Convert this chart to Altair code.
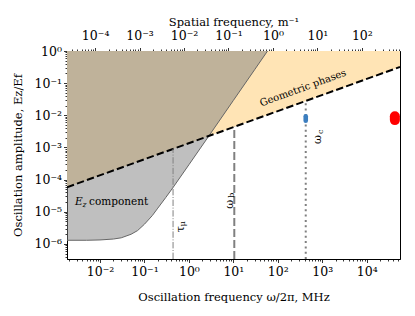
import altair as alt
import pandas as pd

FONT = "DejaVu Serif"

# ---- axis extents ----
X_MIN, X_MAX = 1.81e-3, 5.61e4      # oscillation frequency, MHz
Y_MIN, Y_MAX = 3.4e-7, 1.0          # oscillation amplitude
K_MIN, K_MAX = 2.33e-5, 721.0       # spatial frequency, 1/m

# ---- E_z component boundary (solid grey curve) ----
curve_f = [0.00181, 0.005, 0.01, 0.02, 0.03, 0.05, 0.07, 0.1, 0.15, 0.2, 0.3,
           0.44, 1.0, 2.7, 10.0, 30.0, 58.7]
curve_a = [1.3e-6, 1.3e-6, 1.33e-6, 1.42e-6, 1.55e-6, 2.0e-6, 2.6e-6, 4.1e-6,
           7.6e-6, 1.3e-5, 2.75e-5, 5.7e-5, 2.9e-4, 2.1e-3, 2.9e-2, 0.26, 1.0]

# ---- geometric phases boundary (black dashed) ----
geo_f = [1.81e-3, 5.61e4]
geo_a = [5.8e-5, 0.32]

# ---- characteristic frequencies (vertical lines) ----
tau_f, tau_top = [0.44], [9.1e-4]
wb_f, wb_top = [10.5], [4.4e-3]
wc_f, wc_top = [425.0], [2.8e-2]

# ---- measured points ----
blue_f, blue_lo, blue_hi = [425.0], [6.8e-3], [9.4e-3]
red_f, red_lo, red_hi = [4.3e4], [7.1e-3], [9.4e-3]

# ---- tick exponents ----
x_exps = list(range(-2, 5))
y_exps = list(range(-6, 1))
k_exps = list(range(-4, 3))

SUP = {"-": "\u207b", "0": "\u2070", "1": "\u00b9", "2": "\u00b2", "3": "\u00b3",
       "4": "\u2074", "5": "\u2075", "6": "\u2076", "7": "\u2077", "8": "\u2078", "9": "\u2079"}


def sup(e):
    return "".join(SUP[c] for c in str(e))


def tick_values(lo, hi):
    vals = []
    for e in range(-8, 6):
        for m in range(1, 10):
            v = float(f"{m}e{e}")
            if lo <= v <= hi:
                vals.append(v)
    return vals


LOG10 = "(log(datum.value)/LN10)"
IS_MAJOR = f"abs({LOG10} - round({LOG10})) < 0.001"


def label_expr(exps):
    parts = [f"round({LOG10}) == {e} ? '10{sup(e)}'" for e in exps]
    return f"{IS_MAJOR} ? (" + " : ".join(parts) + " : '') : ''"


def log_axis(lo, hi, exps, orient, title, **kw):
    return alt.Axis(
        orient=orient, values=tick_values(lo, hi), labelExpr=label_expr(exps),
        tickSize={"condition": {"test": IS_MAJOR, "value": 3.5}, "value": 2.0},
        tickColor="black", tickWidth=0.8, domainColor="black", grid=False,
        labelFont=FONT, labelFontSize=12.5, labelColor="black", labelOverlap=False,
        labelFlush=False, labelBound=False,
        title=title, titleFont=FONT, titleFontSize=11.5, titleFontWeight="normal",
        titleColor="black", **kw)


XS = alt.Scale(type="log", domain=[X_MIN, X_MAX], nice=False)
YS = alt.Scale(type="log", domain=[Y_MIN, Y_MAX], nice=False)
KS = alt.Scale(type="log", domain=[K_MIN, K_MAX], nice=False)

bottom_axis = log_axis(X_MIN, X_MAX, x_exps, "bottom",
                       "Oscillation frequency \u03c9/2\u03c0, MHz",
                       labelPadding=2.5, titleY=38, titleBaseline="middle")
left_axis = log_axis(Y_MIN, Y_MAX, y_exps, "left",
                     "Oscillation amplitude, Ez/Ef",
                     labelPadding=2, titleX=-49, titleY=104, titleAngle=270,
                     titleBaseline="middle", titleAlign="center")
top_axis = log_axis(K_MIN, K_MAX, k_exps, "top",
                    "Spatial frequency, m\u207b\u00b9",
                    labelPadding=5, titleY=-29, titleBaseline="middle")


def X(field):
    return alt.X(field, type="quantitative", scale=XS, axis=bottom_axis)


def Y(field):
    return alt.Y(field, type="quantitative", scale=YS, axis=left_axis)


geo_df = pd.DataFrame({"f": geo_f, "a": geo_a, "top": [Y_MAX] * len(geo_f)})
curve_df = pd.DataFrame({"f": curve_f, "a": curve_a, "top": [Y_MAX] * len(curve_f)})

orange = alt.Chart(geo_df).mark_area(color="#FFE4B5", opacity=1, clip=True).encode(
    x=X("f"), y=Y("a"), y2="top")
grey = alt.Chart(curve_df).mark_area(color="#808080", opacity=0.5, clip=True).encode(
    x=X("f"), y=Y("a"), y2="top")
curve_line = alt.Chart(curve_df).mark_line(color="#666666", strokeWidth=1, clip=True).encode(
    x=X("f"), y=Y("a"))
geo_line = alt.Chart(geo_df).mark_line(color="black", strokeWidth=2, strokeDash=[7.4, 3.2],
                                       clip=True).encode(x=X("f"), y=Y("a"))


def vline(fs, tops, dash, width):
    df = pd.DataFrame({"f": fs, "lo": [Y_MIN] * len(fs), "hi": tops})
    return alt.Chart(df).mark_rule(color="#808080", strokeWidth=width, strokeDash=dash).encode(
        x=X("f"), y=Y("lo"), y2="hi")


tau_rule = vline(tau_f, tau_top, [6.4, 1.6, 1.0, 1.6], 1.0)
wb_rule = vline(wb_f, wb_top, [8, 3], 2.0)
wc_rule = vline(wc_f, wc_top, [2, 3.3], 2.0)

blue = alt.Chart(pd.DataFrame({"f": blue_f, "lo": blue_lo, "hi": blue_hi})).mark_rule(
    color="#3c7ebf", strokeWidth=4.6, strokeCap="round").encode(x=X("f"), y=Y("lo"), y2="hi")
red = alt.Chart(pd.DataFrame({"f": red_f, "lo": red_lo, "hi": red_hi})).mark_rule(
    color="#ff0000", strokeWidth=10, strokeCap="round").encode(x=X("f"), y=Y("lo"), y2="hi")


def label(f, a, text, **kw):
    df = pd.DataFrame({"f": [f], "a": [a], "t": [text]})
    opts = dict(font=FONT, color="black", fontSize=10.5, baseline="middle")
    opts.update(kw)
    return alt.Chart(df).mark_text(**opts).encode(x=X("f"), y=Y("a"), text="t:N")


texts = [
    label(369.0, 0.0703, "Geometric phases", angle=340, align="center", fontSize=10),
    label(2.74e-3, 2.0e-5, "E", align="left", fontStyle="italic"),
    label(2.74e-3, 2.0e-5, "z", align="left", fontStyle="italic", fontSize=7.5, dx=7.5, dy=2.5),
    label(2.74e-3, 2.0e-5, "component", align="left", dx=14),
    label(0.44, 2.85e-6, "\u03c4", angle=270, align="center", fontSize=11, dy=7.7),
    label(0.44, 4.2e-6, "\u03bc", angle=270, align="center", fontSize=8, dy=10.3),
    label(10.5, 1.71e-5, "\u03c9", angle=270, align="center", fontSize=11, dy=-4.7),
    label(10.5, 3.3e-5, "b", angle=270, align="center", fontSize=8, dy=-2.3),
    label(425.0, 1.77e-3, "\u03c9", angle=270, align="center", fontSize=11, dy=12.6),
    label(425.0, 3.1e-3, "c", angle=270, align="center", fontSize=8, dy=14.8),
]

main = alt.layer(orange, grey, curve_line, geo_line, tau_rule, wb_rule, wc_rule,
                 blue, red, *texts)

top_df = pd.DataFrame({"k": [K_MIN, K_MAX], "a": [1e-3, 1e-3]})
top_layer = alt.Chart(top_df).mark_point(opacity=0).encode(
    x=alt.X("k", type="quantitative", scale=KS, axis=top_axis),
    y=Y("a"))

chart = alt.layer(main, top_layer).resolve_scale(x="independent").properties(
    width=333, height=208,
    padding={"left": 59, "top": 43, "right": 7, "bottom": 49},
    autosize=alt.AutoSizeParams(type="none"),
    background="white",
).configure_view(stroke="black", strokeWidth=1).configure_axis(
    labelFont=FONT, titleFont=FONT, titleFontWeight="normal"
).configure_text(font=FONT)

chart.save("out.html", embed_options={"renderer": "svg", "actions": False})
